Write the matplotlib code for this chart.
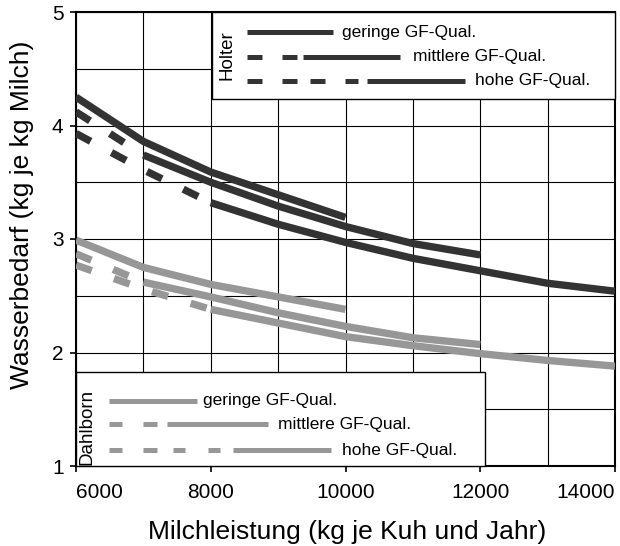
import matplotlib
matplotlib.use("Agg")
import matplotlib.pyplot as plt
from matplotlib.patches import Rectangle
from matplotlib.ticker import MultipleLocator

plt.rcParams['font.family'] = ['Liberation Sans', 'DejaVu Sans']
plt.rcParams['lines.scale_dashes'] = False

# Milchleistung (kg je Kuh und Jahr)
milk = [6000, 7000, 8000, 9000, 10000, 11000, 12000, 13000, 14000]

# Wasserbedarf (kg je kg Milch) - Holter
holter_gering = [4.25, 3.86, 3.59, 3.39, 3.19]
holter_mittel = [4.12, 3.74, 3.50, 3.29, 3.11, 2.96, 2.86]
holter_hoch = [3.93, 3.61, 3.32, 3.13, 2.97, 2.83, 2.72, 2.61, 2.54]

# Wasserbedarf (kg je kg Milch) - Dahlborn
dahl_gering = [2.99, 2.75, 2.60, 2.49, 2.38]
dahl_mittel = [2.87, 2.62, 2.49, 2.35, 2.23, 2.13, 2.07]
dahl_hoch = [2.77, 2.56, 2.38, 2.26, 2.14, 2.06, 1.99, 1.93, 1.88]

# index of the point where the dashed start ends and the solid line begins
dash_end = {'gering': 0, 'mittel': 1, 'hoch': 2}

qual_labels = ['geringe GF-Qual.', 'mittlere GF-Qual.', 'hohe GF-Qual.']

dark = '#333333'
light = '#979797'
lw = 5.3
dash_pat = (12.0, 17.0)

fig = plt.figure(figsize=(6.2, 5.46), dpi=100)
ax = fig.add_axes([76/620, 1-466/546, 539/620, 454/546])


def curve(y, kind, color):
    n = len(y)
    xs = milk[:n]
    k = dash_end[kind]
    if k > 0:
        ax.plot(xs[:k+1], y[:k+1], color=color, lw=lw, dashes=dash_pat,
                dash_capstyle='butt', zorder=3)
    ax.plot(xs[k:], y[k:], color=color, lw=lw, solid_capstyle='butt',
            solid_joinstyle='round', zorder=3)


for y, kind in [(holter_gering, 'gering'), (holter_mittel, 'mittel'), (holter_hoch, 'hoch')]:
    curve(y, kind, dark)
for y, kind in [(dahl_gering, 'gering'), (dahl_mittel, 'mittel'), (dahl_hoch, 'hoch')]:
    curve(y, kind, light)

ax.set_xlim(6000, 14000)
ax.set_ylim(1, 5)
ax.xaxis.set_minor_locator(MultipleLocator(1000))
ax.yaxis.set_major_locator(MultipleLocator(1))
ax.yaxis.set_minor_locator(MultipleLocator(0.5))
ax.grid(True, which='both', color='black', lw=0.8, zorder=1)
ax.set_axisbelow(True)
ax.tick_params(which='major', direction='out', length=4, width=1.2, labelsize=15, pad=5)
ax.tick_params(axis='x', which='major', pad=8)
ax.tick_params(which='minor', length=0)
for s in ax.spines.values():
    s.set_linewidth(1.5)

ax.set_xticks([6000, 8000, 10000, 12000, 14000])
ax.set_xticklabels(['6000', '8000', '10000', '12000', '14000'])
labs = ax.get_xticklabels()
labs[0].set_ha('left')
labs[-1].set_ha('right')

fig.text(22/620, 1-215/546, 'Wasserbedarf (kg je kg Milch)', rotation=90,
         ha='center', va='center', fontsize=19)
fig.text(347/620, 1-532/546, 'Milchleistung (kg je Kuh und Jahr)',
         ha='center', va='center', fontsize=19)


# hand drawn legend boxes like in the original
def px(x):
    return (x - 76) / 539


def py(y):
    return (466 - y) / 454


def legend_box(x0, y0, x1, y1, title, tx, ty, rows, color):
    ax.add_patch(Rectangle((px(x0), py(y1)), px(x1) - px(x0), py(y0) - py(y1),
                           transform=ax.transAxes, facecolor='white',
                           edgecolor='black', lw=1.0, zorder=4, clip_on=False))
    ax.text(px(tx), py(ty), title, rotation=90, ha='center', va='center',
            fontsize=13.5, transform=ax.transAxes, zorder=5)
    for (segs, yy, txt_x), lab in zip(rows, qual_labels):
        for a, b in segs:
            ax.plot([px(a), px(b)], [py(yy), py(yy)], color=color, lw=3.6,
                    solid_capstyle='butt', transform=ax.transAxes, zorder=5,
                    clip_on=False)
        ax.text(px(txt_x), py(yy), lab, ha='left', va='center', fontsize=12.5,
                transform=ax.transAxes, zorder=5)


legend_box(212, 12, 615, 99, 'Holter', 227, 55, [
    ([(247, 333)], 32, 342),
    ([(247, 262), (282, 297), (303, 400)], 57, 413),
    ([(247, 262), (282, 297), (310, 325), (345, 358), (367, 465)], 81, 475),
], dark)

legend_box(76, 372, 485, 466, 'Dahlborn', 87, 427, [
    ([(109, 197)], 401, 203),
    ([(109, 122), (143, 157), (167, 268)], 424, 278),
    ([(109, 122), (143, 157), (173, 185), (208, 220), (233, 331)], 450, 342),
], light)

fig.savefig('out.png', dpi=100)
